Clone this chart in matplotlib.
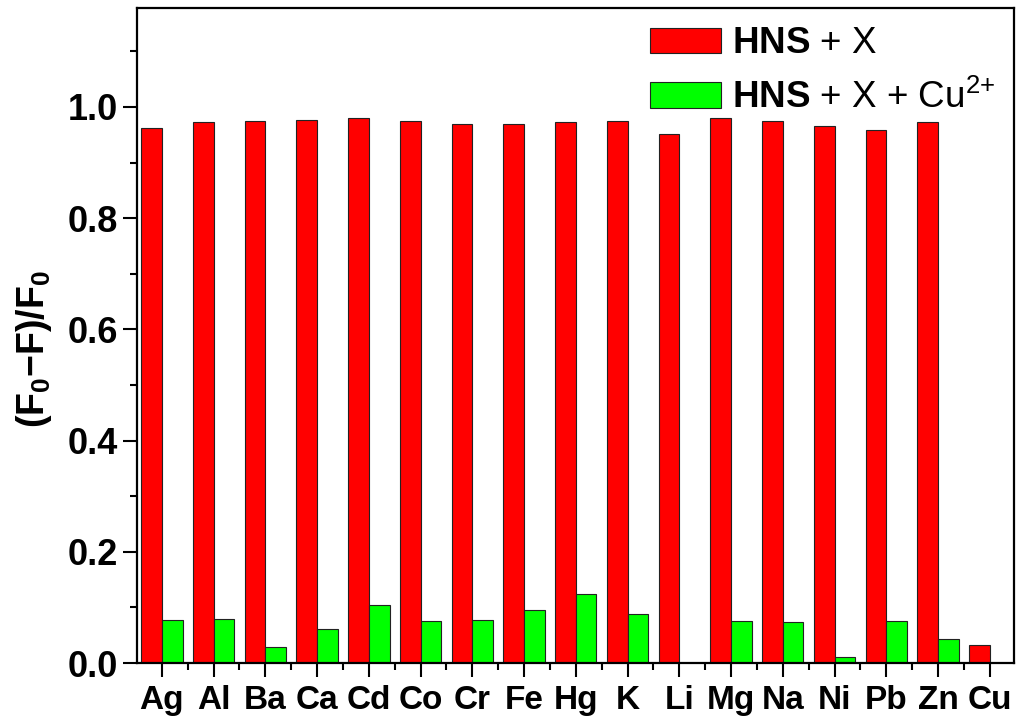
import matplotlib
matplotlib.use("Agg")
import matplotlib.pyplot as plt
from matplotlib.ticker import MultipleLocator, FixedLocator
import numpy as np

plt.rcParams['font.family'] = ['Liberation Sans', 'DejaVu Sans']
plt.rcParams['mathtext.fontset'] = 'custom'
plt.rcParams['mathtext.rm'] = 'Liberation Sans'
plt.rcParams['mathtext.bf'] = 'Liberation Sans:bold'
plt.rcParams['mathtext.it'] = 'Liberation Sans:italic'

# data
ions = ["Ag", "Al", "Ba", "Ca", "Cd", "Co", "Cr", "Fe", "Hg", "K",
        "Li", "Mg", "Na", "Ni", "Pb", "Zn", "Cu"]
hns_x = [0.962, 0.973, 0.975, 0.976, 0.980, 0.975, 0.970, 0.970, 0.973,
         0.975, 0.952, 0.980, 0.975, 0.965, 0.958, 0.973, 0.032]
hns_x_cu = [0.077, 0.080, 0.028, 0.062, 0.104, 0.076, 0.077, 0.095, 0.124,
            0.088, 0.0, 0.075, 0.073, 0.010, 0.075, 0.044, 0.0]

fig = plt.figure(figsize=(10.24, 7.27), dpi=100)
ax = fig.add_axes([0.1338, 0.088, 0.8565, 0.901])

x = np.arange(len(ions))
w = 0.4
ax.bar(x - w / 2, hns_x, w, color="#ff0000", edgecolor="#222222", linewidth=0.8,
       label=r"$\mathbf{HNS}$ + X")
ax.bar(x[:-1] + w / 2, hns_x_cu[:-1], w, color="#00ff00", edgecolor="#222222",
       linewidth=0.8, label=r"$\mathbf{HNS}$ + X + Cu$^{2{+}}$")

ax.set_xlim(-0.48, len(ions) - 0.53)
ax.set_ylim(0, 1.178)

ax.set_xticks(x)
ax.set_xticklabels(ions, fontsize=24, fontweight="bold")
ax.xaxis.set_minor_locator(FixedLocator(np.arange(-0.5, len(ions), 1.0)))
ax.yaxis.set_minor_locator(MultipleLocator(0.1))
ax.set_yticks([0.0, 0.2, 0.4, 0.6, 0.8, 1.0])
ax.set_yticklabels(["0.0", "0.2", "0.4", "0.6", "0.8", "1.0"],
                   fontsize=26, fontweight="bold")

ax.tick_params(which="major", direction="out", length=10, width=1.5, pad=4)
ax.tick_params(axis="x", which="major", pad=6)
ax.tick_params(which="minor", direction="out", length=5, width=1.5)
for s in ax.spines.values():
    s.set_linewidth(1.6)

ax.set_ylabel(r"$\mathbf{(F_0{-}F)/F_0}$", fontsize=27)
ax.yaxis.set_label_coords(-0.095, 0.48)

ax.legend(loc="upper right", frameon=False, fontsize=26.5,
          handlelength=1.95, handleheight=0.7, handletextpad=0.3,
          labelspacing=0.5, borderaxespad=0.2, borderpad=0.3)

fig.savefig("out.png", dpi=100)
